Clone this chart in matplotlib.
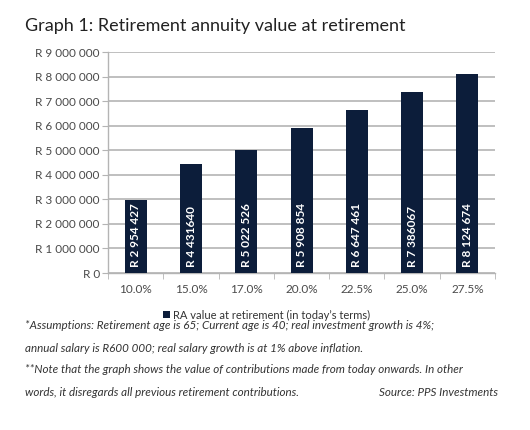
import matplotlib
matplotlib.use('Agg')
import matplotlib.pyplot as plt
from matplotlib.ticker import FuncFormatter

categories = ['10.0%', '15.0%', '17.0%', '20.0%', '22.5%', '25.0%', '27.5%']
values = [2954427, 4431640, 5022526, 5908854, 6647461, 7386067, 8124674]
bar_labels = ['R 2 954 427', 'R 4 431640', 'R 5 022 526', 'R 5 908 854',
              'R 6 647 461', 'R 7 386067', 'R 8 124 674']
series_name = "RA value at retirement (in today\u2019s terms)"
title = 'Graph 1: Retirement annuity value at retirement'
notes = [
    '*Assumptions: Retirement age is 65; Current age is 40; real investment growth is 4%;',
    'annual salary is R600 000; real salary growth is at 1% above inflation.',
    '**Note that the graph shows the value of contributions made from today onwards. In other',
    'words, it disregards all previous retirement contributions.',
]
source = 'Source: PPS Investments'

plt.rcParams['font.family'] = ['Lato', 'DejaVu Sans']

navy = '#0c1d3a'
grid_c = '#b4b4b4'
tick_c = '#4a4a4a'


def rand_fmt(v, pos):
    s = f'{int(v):,}'.replace(',', ' ')
    return 'R ' + s


fig = plt.figure(figsize=(5.3, 4.3), dpi=100)
ax = fig.add_axes([0.204, 0.365, 0.73, 0.514])

x = range(len(categories))
bars = ax.bar(x, values, width=0.4, color=navy, zorder=3, label=series_name)
for i, b in enumerate(bars):
    ax.text(b.get_x() + b.get_width() / 2, 250000, bar_labels[i], rotation=90,
            ha='center', va='bottom', color='white', fontsize=8.5, fontweight='bold', zorder=4)

ax.set_ylim(0, 9000000)
ax.set_xlim(-0.5, len(categories) - 0.5)
ax.set_yticks(range(0, 9000001, 1000000))
ax.yaxis.set_major_formatter(FuncFormatter(rand_fmt))
ax.set_xticks(list(x))
ax.set_xticklabels(categories)
ax.set_xticks([i - 0.5 for i in range(len(categories) + 1)], minor=True)
ax.tick_params(axis='x', which='major', length=0, pad=8, labelsize=8.5, labelcolor=tick_c)
ax.tick_params(axis='x', which='minor', length=4, color=grid_c)
ax.tick_params(axis='y', length=4, color=grid_c, labelsize=8.5, labelcolor=tick_c, pad=2)
ax.grid(True, axis='y', color=grid_c, linewidth=1.2, zorder=0)
for side in ['top', 'right']:
    ax.spines[side].set_visible(False)
for side in ['left', 'bottom']:
    ax.spines[side].set_color(grid_c)
    ax.spines[side].set_linewidth(1.0)

ax.legend(loc='upper center', bbox_to_anchor=(0.41, -0.12), frameon=False,
          fontsize=8, handlelength=0.6, handleheight=0.6, handletextpad=0.3,
          labelcolor='#333333')

fig.text(0.047, 0.94, title, fontsize=13, color='#222222', va='center')

ys = [0.244, 0.19, 0.14, 0.087]
for t, yy in zip(notes, ys):
    fig.text(0.047, yy, t, fontsize=8.4, style='italic', color='#333333', va='center')
fig.text(0.94, ys[3], source, fontsize=8.4, style='italic', color='#333333', va='center', ha='right')

fig.savefig('out.png', dpi=100)
